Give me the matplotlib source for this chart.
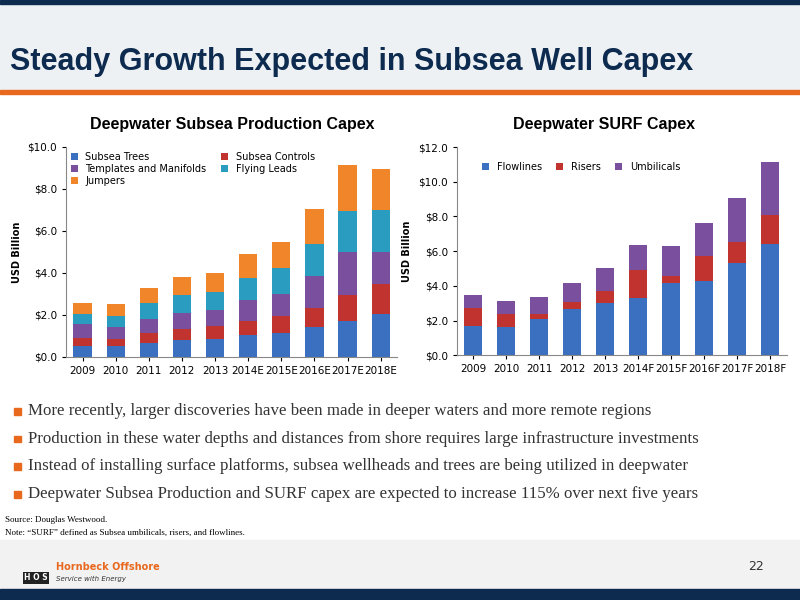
import matplotlib
matplotlib.use("Agg")
import matplotlib.pyplot as plt
from matplotlib.patches import Rectangle

years = ["2009", "2010", "2011", "2012", "2013", "2014E", "2015E", "2016E", "2017E", "2018E"]
years_r = ["2009", "2010", "2011", "2012", "2013", "2014F", "2015F", "2016F", "2017F", "2018F"]
subsea_trees = [0.54, 0.54, 0.68, 0.81, 0.87, 1.03, 1.14, 1.41, 1.73, 2.06]
subsea_controls = [0.38, 0.32, 0.46, 0.52, 0.62, 0.67, 0.80, 0.91, 1.24, 1.43]
templates = [0.65, 0.57, 0.67, 0.75, 0.75, 1.00, 1.06, 1.55, 2.01, 1.53]
flying_leads = [0.49, 0.54, 0.75, 0.86, 0.86, 1.08, 1.22, 1.53, 1.99, 1.98]
jumpers = [0.51, 0.57, 0.74, 0.87, 0.88, 1.12, 1.26, 1.66, 2.16, 1.94]
flowlines = [1.69, 1.63, 2.10, 2.69, 3.02, 3.31, 4.15, 4.25, 5.31, 6.42]
risers = [1.04, 0.75, 0.30, 0.37, 0.69, 1.61, 0.39, 1.44, 1.23, 1.66]
umbilicals = [0.73, 0.72, 0.98, 1.13, 1.29, 1.45, 1.73, 1.93, 2.52, 3.04]
bullets = [
    "More recently, larger discoveries have been made in deeper waters and more remote regions",
    "Production in these water depths and distances from shore requires large infrastructure investments",
    "Instead of installing surface platforms, subsea wellheads and trees are being utilized in deepwater",
    "Deepwater Subsea Production and SURF capex are expected to increase 115% over next five years",
]

BLUE, RED, PURPLE, TEAL, ORANGE = "#3b6fbf", "#c0332e", "#7a4f9e", "#2a9cc0", "#f0852a"
NAVY = "#0d2a4f"

fig = plt.figure(figsize=(8, 6), dpi=100)
fig.patch.set_facecolor("white")
fig.patches.append(Rectangle((0, 0.994), 1, 0.006, transform=fig.transFigure, color=NAVY))
fig.patches.append(Rectangle((0, 0.85), 1, 0.144, transform=fig.transFigure, color="#eef1f4", zorder=0))
fig.patches.append(Rectangle((0, 0.843), 1, 0.007, transform=fig.transFigure, color="#e8691e"))
fig.patches.append(Rectangle((0, 0.018), 1, 0.082, transform=fig.transFigure, color="#f2f2f2", zorder=0))
fig.patches.append(Rectangle((0, 0), 1, 0.018, transform=fig.transFigure, color=NAVY))
fig.text(0.012, 0.897, "Steady Growth Expected in Subsea Well Capex", fontsize=22, fontweight="bold",
         color=NAVY, family="Liberation Sans", va="center")

def style(ax):
    ax.tick_params(labelsize=7.5, length=3)
    for s in ["top", "right"]:
        ax.spines[s].set_visible(False)
    for s in ["left", "bottom"]:
        ax.spines[s].set_color("#888888")
    ax.set_xlim(-0.5, 9.5)

ax1 = fig.add_axes([0.0825, 0.405, 0.414, 0.35])
x = range(len(years))
bottom = [0]*10
hs = {}
for vals, c, lab in [(subsea_trees, BLUE, "Subsea Trees"), (subsea_controls, RED, "Subsea Controls"),
                     (templates, PURPLE, "Templates and Manifolds"), (flying_leads, TEAL, "Flying Leads"),
                     (jumpers, ORANGE, "Jumpers")]:
    hs[lab] = ax1.bar(x, vals, 0.55, bottom=bottom, color=c, label=lab)
    bottom = [b+v for b, v in zip(bottom, vals)]
ax1.set_ylim(0, 10)
ax1.set_yticks([0, 2, 4, 6, 8, 10])
ax1.set_yticklabels([f"${v:.1f}" for v in [0, 2, 4, 6, 8, 10]])
ax1.set_xticks(list(x)); ax1.set_xticklabels(years)
ax1.set_ylabel("USD Billion", fontsize=7, fontweight="bold")
style(ax1)
order = ["Subsea Trees", "Templates and Manifolds", "Jumpers", "Subsea Controls", "Flying Leads"]
ax1.legend([hs[o] for o in order], order, ncol=2, loc="upper left", fontsize=7, frameon=False,
           handlelength=0.7, handleheight=0.7, borderaxespad=0.1, columnspacing=1.5, labelspacing=0.2)
fig.text(0.29, 0.785, "Deepwater Subsea Production Capex", fontsize=11.5, fontweight="bold", ha="center",
         family="Liberation Sans")

ax2 = fig.add_axes([0.571, 0.408, 0.4125, 0.347])
bottom = [0]*10
for vals, c, lab in [(flowlines, BLUE, "Flowlines"), (risers, RED, "Risers"), (umbilicals, PURPLE, "Umbilicals")]:
    ax2.bar(x, vals, 0.55, bottom=bottom, color=c, label=lab)
    bottom = [b+v for b, v in zip(bottom, vals)]
ax2.set_ylim(0, 12)
ax2.set_yticks([0, 2, 4, 6, 8, 10, 12])
ax2.set_yticklabels([f"${v:.1f}" for v in [0, 2, 4, 6, 8, 10, 12]])
ax2.set_xticks(list(x)); ax2.set_xticklabels(years_r)
ax2.set_ylabel("USD Billion", fontsize=7, fontweight="bold")
style(ax2)
ax2.legend(ncol=3, loc="upper left", bbox_to_anchor=(0.05, 0.97), fontsize=7, frameon=False,
           handlelength=0.7, handleheight=0.7, columnspacing=1.5)
fig.text(0.755, 0.785, "Deepwater SURF Capex", fontsize=11.5, fontweight="bold", ha="center",
         family="Liberation Sans")

for i, b in enumerate(bullets):
    y = 1 - (411 + i*27.7)/600
    fig.patches.append(Rectangle((0.018, y-0.006), 0.008, 0.011, transform=fig.transFigure, color="#e8691e"))
    fig.text(0.035, y, b, fontsize=12.2, family="Liberation Serif", va="center", color="#333333")

fig.text(0.006, 1-520/600, "Source: Douglas Westwood.", fontsize=6.5, family="Liberation Serif", va="center")
fig.text(0.006, 1-533/600, "Note: \u201cSURF\u201d defined as Subsea umbilicals, risers, and flowlines.",
         fontsize=6.5, family="Liberation Serif", va="center")
fig.text(0.07, 1-567/600, "Hornbeck Offshore", fontsize=7, fontweight="bold", color="#e8691e", va="center")
fig.text(0.07, 1-579/600, "Service with Energy", fontsize=5, style="italic", color="#333333", va="center")
fig.text(0.03, 1-578/600, "H O S", fontsize=5.5, fontweight="bold", color="white", va="center",
         bbox=dict(facecolor="#222222", edgecolor="none", pad=1))
fig.text(0.955, 1-567/600, "22", fontsize=9, color="#333333", va="center", ha="right")

fig.savefig("out.png", dpi=100)
